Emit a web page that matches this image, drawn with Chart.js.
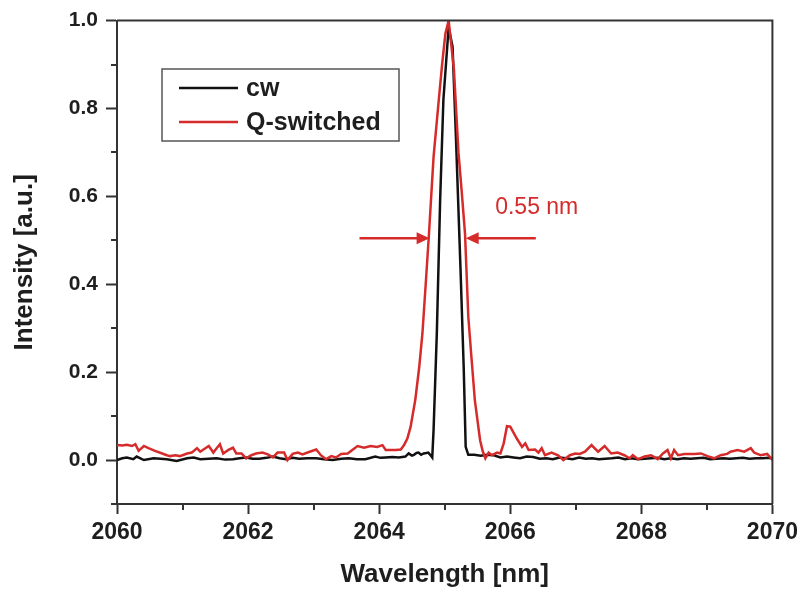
<!DOCTYPE html>
<html>
<head>
<meta charset="utf-8">
<script src="https://cdn.jsdelivr.net/npm/chart.js@4"></script>
<style>
  html, body { margin: 0; padding: 0; background: #ffffff; }
  #wrap { width: 803px; height: 590px; }
</style>
</head>
<body>
<div id="wrap"><canvas id="spectrum" width="803" height="590"></canvas></div>
<script>
// ---- Emission spectra: cw vs. Q-switched operation ----

// Q-switched spectrum: wavelength [nm] and normalised intensity
const qsWavelength = [
  2060.00, 2060.08, 2060.15, 2060.23, 2060.28, 2060.33, 2060.41, 2060.48, 2060.58, 2060.69,
  2060.76, 2060.81, 2060.89, 2060.96, 2061.07, 2061.14, 2061.22, 2061.27, 2061.32, 2061.40,
  2061.47, 2061.52, 2061.57, 2061.62, 2061.70, 2061.77, 2061.82, 2061.90, 2061.97, 2062.05,
  2062.12, 2062.22, 2062.30, 2062.38, 2062.45, 2062.55, 2062.60, 2062.68, 2062.76, 2062.83,
  2062.94, 2063.04, 2063.11, 2063.19, 2063.27, 2063.34, 2063.42, 2063.52, 2063.59, 2063.67,
  2063.77, 2063.87, 2063.97, 2064.05, 2064.10, 2064.18, 2064.25, 2064.33, 2064.38, 2064.43,
  2064.48, 2064.55, 2064.61, 2064.66, 2064.71, 2064.76, 2064.83, 2064.91, 2064.96, 2065.01,
  2065.06, 2065.14, 2065.21, 2065.26, 2065.31, 2065.36, 2065.41, 2065.46, 2065.54, 2065.58,
  2065.62, 2065.67, 2065.72, 2065.80, 2065.85, 2065.90, 2065.95, 2066.00, 2066.10, 2066.18,
  2066.23, 2066.28, 2066.38, 2066.43, 2066.48, 2066.53, 2066.63, 2066.73, 2066.81, 2066.91,
  2066.99, 2067.06, 2067.14, 2067.24, 2067.34, 2067.44, 2067.54, 2067.64, 2067.74, 2067.82,
  2067.87, 2067.95, 2068.05, 2068.15, 2068.25, 2068.33, 2068.40, 2068.45, 2068.50, 2068.56,
  2068.66, 2068.81, 2068.91, 2069.01, 2069.11, 2069.21, 2069.31, 2069.36, 2069.47, 2069.57,
  2069.67, 2069.72, 2069.82, 2069.92, 2070.00
];
const qsIntensity = [
  0.034, 0.033, 0.035, 0.032, 0.036, 0.021, 0.032, 0.027, 0.021, 0.015,
  0.011, 0.009, 0.011, 0.009, 0.015, 0.017, 0.027, 0.019, 0.024, 0.032,
  0.017, 0.027, 0.036, 0.015, 0.023, 0.028, 0.015, 0.015, 0.004, 0.011,
  0.015, 0.017, 0.013, 0.006, 0.017, 0.017, 0.000, 0.014, 0.017, 0.013,
  0.019, 0.024, 0.011, 0.002, 0.009, 0.006, 0.014, 0.015, 0.023, 0.032,
  0.028, 0.032, 0.030, 0.034, 0.023, 0.023, 0.023, 0.024, 0.034, 0.049,
  0.076, 0.136, 0.210, 0.288, 0.400, 0.515, 0.690, 0.820, 0.900, 0.970,
  1.000, 0.890, 0.700, 0.610, 0.515, 0.326, 0.230, 0.136, 0.045, 0.020,
  0.004, 0.017, 0.011, 0.017, 0.015, 0.038, 0.077, 0.076, 0.049, 0.030,
  0.038, 0.023, 0.024, 0.017, 0.027, 0.011, 0.017, 0.011, 0.000, 0.011,
  0.015, 0.014, 0.019, 0.034, 0.019, 0.032, 0.015, 0.017, 0.011, 0.004,
  0.011, 0.002, 0.008, 0.011, 0.002, 0.015, 0.023, 0.004, 0.023, 0.011,
  0.014, 0.014, 0.015, 0.009, 0.004, 0.011, 0.014, 0.019, 0.023, 0.019,
  0.027, 0.017, 0.011, 0.014, 0.000
];

// cw spectrum: wavelength [nm] and normalised intensity
const cwWavelength = [
  2060.00, 2060.08, 2060.15, 2060.25, 2060.30, 2060.41, 2060.56, 2060.66, 2060.76, 2060.91,
  2061.07, 2061.17, 2061.27, 2061.40, 2061.52, 2061.65, 2061.77, 2061.87, 2061.97, 2062.07,
  2062.17, 2062.28, 2062.38, 2062.48, 2062.58, 2062.68, 2062.78, 2062.90, 2063.04, 2063.16,
  2063.29, 2063.42, 2063.54, 2063.66, 2063.79, 2063.94, 2064.02, 2064.10, 2064.20, 2064.30,
  2064.40, 2064.45, 2064.50, 2064.53, 2064.57, 2064.60, 2064.64, 2064.68, 2064.72, 2064.75,
  2064.79, 2064.81, 2064.83, 2064.88, 2064.93, 2064.98, 2065.06, 2065.12, 2065.17, 2065.24,
  2065.29, 2065.32, 2065.36, 2065.45, 2065.55, 2065.65, 2065.75, 2065.85, 2065.95, 2066.05,
  2066.15, 2066.25, 2066.35, 2066.45, 2066.55, 2066.65, 2066.75, 2066.85, 2066.95, 2067.05,
  2067.15, 2067.25, 2067.35, 2067.45, 2067.55, 2067.65, 2067.75, 2067.85, 2067.95, 2068.05,
  2068.15, 2068.25, 2068.35, 2068.45, 2068.55, 2068.65, 2068.75, 2068.85, 2068.95, 2069.05,
  2069.15, 2069.25, 2069.35, 2069.45, 2069.55, 2069.65, 2069.75, 2069.85, 2069.95, 2070.00
];
const cwIntensity = [
  0.000, 0.004, 0.006, 0.002, 0.008, 0.000, 0.004, 0.003, 0.002, -0.002,
  0.004, 0.006, 0.002, 0.003, 0.004, 0.001, 0.002, 0.004, 0.006, 0.003,
  0.003, 0.005, 0.008, 0.004, 0.002, 0.005, 0.003, 0.004, 0.004, 0.002,
  0.000, 0.003, 0.004, 0.002, 0.002, 0.008, 0.005, 0.006, 0.007, 0.006,
  0.008, 0.015, 0.010, 0.012, 0.016, 0.017, 0.012, 0.015, 0.016, 0.017,
  0.010, 0.006, 0.068, 0.290, 0.590, 0.820, 0.985, 0.940, 0.740, 0.440,
  0.210, 0.030, 0.012, 0.012, 0.010, 0.012, 0.011, 0.006, 0.008, 0.006,
  0.004, 0.008, 0.007, 0.003, 0.004, 0.002, 0.006, 0.004, 0.002, 0.006,
  0.003, 0.004, 0.002, 0.003, 0.004, 0.006, 0.002, 0.004, 0.002, 0.003,
  0.004, 0.005, 0.002, 0.004, 0.002, 0.004, 0.003, 0.004, 0.005, 0.002,
  0.003, 0.004, 0.003, 0.004, 0.005, 0.003, 0.004, 0.004, 0.005, 0.004
];

// Axis ticks
const xMajorTicks = [2060, 2062, 2064, 2066, 2068, 2070];
const xMinorTicks = [2061, 2063, 2065, 2067, 2069];
const yMajorTicks = [0.0, 0.2, 0.4, 0.6, 0.8, 1.0];
const yMinorTicks = [-0.1, 0.1, 0.3, 0.5, 0.7, 0.9];

// FWHM marker of the Q-switched line
const fwhmCenter = 2065.045;   // nm
const fwhmWidth = 0.55;        // nm
const fwhmLevel = 0.505;       // intensity at which the arrows sit
const arrowLength = 1.07;      // nm, length of each arrow
const fwhmLabelX = 2065.77;    // nm, left edge of the label
const fwhmLabelY = 0.574;      // intensity, vertical centre of the label

const FONT = '"Liberation Sans", Arial, Helvetica, sans-serif';
const AXIS_COLOR = '#333333';
const TEXT_COLOR = '#1e1e1e';
const RED = '#d62b2b';
const BLACK = '#111111';

const toPoints = (xs, ys) => xs.map((x, i) => ({ x: x, y: ys[i] }));

// Frame, minor ticks, inset legend and FWHM arrows
const decorations = {
  id: 'decorations',
  afterDraw(chart) {
    const { ctx, chartArea: a, scales: { x, y } } = chart;
    ctx.save();

    // top and right frame lines
    ctx.strokeStyle = AXIS_COLOR;
    ctx.lineWidth = 2;
    ctx.beginPath();
    ctx.moveTo(a.left, a.top);
    ctx.lineTo(a.right, a.top);
    ctx.lineTo(a.right, a.bottom);
    ctx.stroke();

    // minor ticks (outward)
    ctx.beginPath();
    xMinorTicks.forEach(v => {
      const px = Math.round(x.getPixelForValue(v));
      ctx.moveTo(px, a.bottom);
      ctx.lineTo(px, a.bottom + 6);
    });
    yMinorTicks.forEach(v => {
      const py = Math.round(y.getPixelForValue(v));
      ctx.moveTo(a.left, py);
      ctx.lineTo(a.left - 6, py);
    });
    ctx.stroke();

    // inset legend
    const lx = 162, ly = 69, lw = 237, lh = 72;
    ctx.fillStyle = '#ffffff';
    ctx.fillRect(lx, ly, lw, lh);
    ctx.strokeStyle = '#555555';
    ctx.lineWidth = 1.5;
    ctx.strokeRect(lx, ly, lw, lh);
    ctx.font = 'bold 25px ' + FONT;
    ctx.textBaseline = 'middle';
    ctx.textAlign = 'left';
    chart.data.datasets.forEach((ds, i) => {
      const rowY = ly + 19 + i * 34;
      ctx.strokeStyle = ds.borderColor;
      ctx.lineWidth = 2.5;
      ctx.beginPath();
      ctx.moveTo(lx + 17, rowY);
      ctx.lineTo(lx + 76, rowY);
      ctx.stroke();
      ctx.fillStyle = TEXT_COLOR;
      ctx.fillText(ds.label, lx + 84, rowY + 1);
    });

    // FWHM arrows pointing inward at the line edges
    const yA = y.getPixelForValue(fwhmLevel);
    const leftTip = x.getPixelForValue(fwhmCenter - fwhmWidth / 2);
    const rightTip = x.getPixelForValue(fwhmCenter + fwhmWidth / 2);
    const leftTail = x.getPixelForValue(fwhmCenter - fwhmWidth / 2 - arrowLength);
    const rightTail = x.getPixelForValue(fwhmCenter + fwhmWidth / 2 + arrowLength);
    const head = 13, half = 6;
    ctx.strokeStyle = RED;
    ctx.fillStyle = RED;
    ctx.lineWidth = 2.5;
    ctx.beginPath();
    ctx.moveTo(leftTail, yA);
    ctx.lineTo(leftTip - head + 1, yA);
    ctx.moveTo(rightTail, yA);
    ctx.lineTo(rightTip + head - 1, yA);
    ctx.stroke();
    ctx.beginPath();
    ctx.moveTo(leftTip, yA);
    ctx.lineTo(leftTip - head, yA - half);
    ctx.lineTo(leftTip - head, yA + half);
    ctx.closePath();
    ctx.moveTo(rightTip, yA);
    ctx.lineTo(rightTip + head, yA - half);
    ctx.lineTo(rightTip + head, yA + half);
    ctx.closePath();
    ctx.fill();

    ctx.font = '23px ' + FONT;
    ctx.textAlign = 'left';
    ctx.textBaseline = 'middle';
    ctx.fillText(fwhmWidth.toFixed(2) + ' nm', x.getPixelForValue(fwhmLabelX), y.getPixelForValue(fwhmLabelY));

    ctx.restore();
  }
};

new Chart(document.getElementById('spectrum'), {
  type: 'line',
  data: {
    datasets: [
      {
        label: 'cw',
        data: toPoints(cwWavelength, cwIntensity),
        borderColor: BLACK,
        order: 1
      },
      {
        label: 'Q-switched',
        data: toPoints(qsWavelength, qsIntensity),
        borderColor: RED,
        order: 0
      }
    ]
  },
  options: {
    responsive: false,
    animation: false,
    devicePixelRatio: 1,
    layout: { padding: { left: 0, top: 20, right: 28, bottom: 0 } },
    elements: {
      point: { radius: 0, hoverRadius: 0 },
      line: { tension: 0, borderWidth: 2.5, fill: false }
    },
    plugins: {
      legend: { display: false },
      tooltip: { enabled: false }
    },
    scales: {
      x: {
        type: 'linear',
        min: 2060,
        max: 2070,
        afterBuildTicks: s => { s.ticks = xMajorTicks.map(v => ({ value: v })); },
        afterFit: s => { s.height = 86; },
        grid: { drawOnChartArea: false, drawTicks: true, tickLength: 10, tickWidth: 2, tickColor: AXIS_COLOR },
        border: { display: true, color: AXIS_COLOR, width: 2 },
        ticks: {
          autoSkip: false,
          maxRotation: 0,
          padding: 5,
          color: TEXT_COLOR,
          font: { family: FONT, size: 23, weight: 'bold' },
          callback: v => String(v)
        },
        title: {
          display: true,
          text: 'Wavelength [nm]',
          color: TEXT_COLOR,
          padding: { top: 0, bottom: 0 },
          font: { family: FONT, size: 26, weight: 'bold', lineHeight: 1.2 }
        }
      },
      y: {
        type: 'linear',
        min: -0.1,
        max: 1.0,
        afterBuildTicks: s => { s.ticks = yMajorTicks.map(v => ({ value: v })); },
        afterFit: s => { s.width = 117; },
        grid: { drawOnChartArea: false, drawTicks: true, tickLength: 11, tickWidth: 2, tickColor: AXIS_COLOR },
        border: { display: true, color: AXIS_COLOR, width: 2 },
        ticks: {
          padding: 8,
          color: TEXT_COLOR,
          font: { family: FONT, size: 21, weight: 'bold' },
          callback: v => Number(v).toFixed(1)
        },
        title: {
          display: true,
          text: 'Intensity [a.u.]',
          color: TEXT_COLOR,
          padding: { top: 9, bottom: 0 },
          font: { family: FONT, size: 26, weight: 'bold', lineHeight: 1.2 }
        }
      }
    }
  },
  plugins: [decorations]
});
</script>
</body>
</html>
